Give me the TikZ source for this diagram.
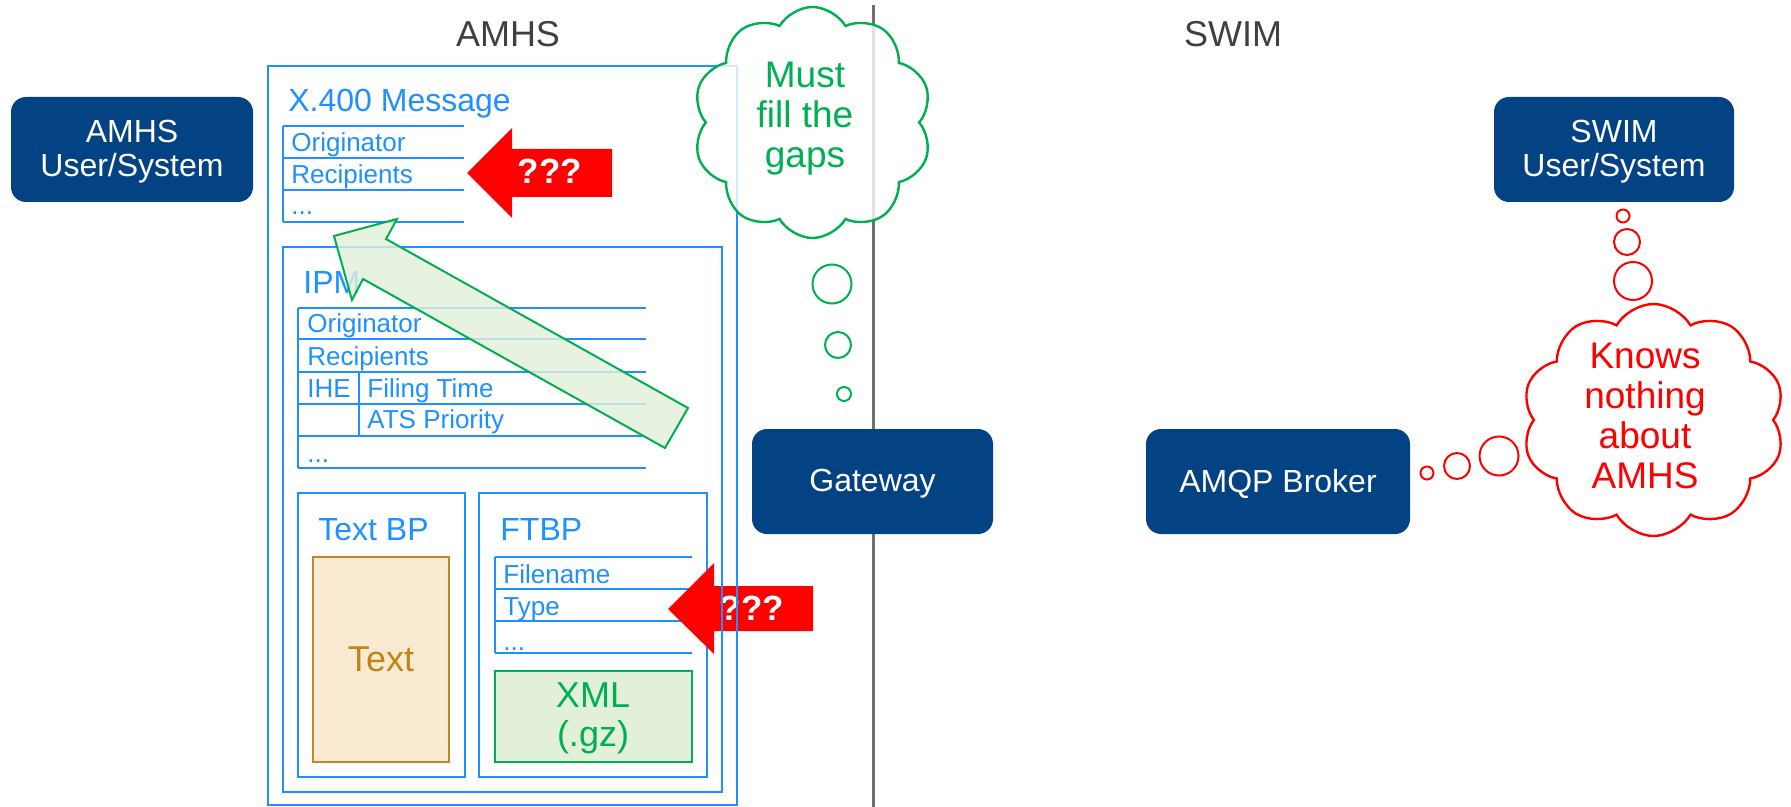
\documentclass[tikz,border=0pt]{standalone}
\usepackage{fontspec}
\setmainfont{Liberation Sans}
\usetikzlibrary{shapes.symbols,fit}
\definecolor{navy}{HTML}{034283}
\definecolor{azure}{HTML}{1E90FF}
\definecolor{grn}{HTML}{00B050}
\definecolor{grnfill}{HTML}{E2F0D9}
\definecolor{ochre}{HTML}{BF8616}
\definecolor{peach}{HTML}{FBEAD2}
\definecolor{ochreline}{HTML}{C0882B}
\definecolor{titlegray}{HTML}{404040}
\definecolor{divgray}{HTML}{707070}
\begin{document}
\begin{tikzpicture}[x=0.5pt,y=-0.5pt,
  darkbox/.style={draw=none, fill=navy, rounded corners=7.5pt, inner sep=0pt},
  boxtext/.style={text=white, align=center, font=\fontsize{16}{17}\selectfont, inner sep=0pt},
  frame/.style={draw=azure, line width=1pt, inner sep=0pt},
  tline/.style={draw=azure, line width=0.8pt},
  tbl/.style={text=azure, font=\fontsize{13}{15}\selectfont, inner sep=0pt, anchor=base west},
  hdr/.style={text=azure, font=\fontsize{16}{19}\selectfont, inner sep=0pt, anchor=base west},
  qarrow/.style={fill=red, draw=none},
  qtext/.style={text=white, font=\bfseries\fontsize{17.5}{20}\selectfont, inner sep=0pt, anchor=base},
  titletext/.style={text=titlegray, font=\fontsize{18}{21}\selectfont, inner sep=0pt, anchor=base},
  gbubble/.style={circle, draw=grn, line width=1pt, inner sep=0pt, fill=white},
  rbubble/.style={circle, draw=red, line width=1pt, inner sep=0pt, fill=white},
  cloudtext/.style={align=center, font=\fontsize{18.5}{20}\selectfont, inner sep=0pt},
]
\useasboundingbox (0,0) rectangle (1791,807);

% divider
\coordinate (divtop) at (873,5);
\coordinate (divbot) at (873,807);
\draw[divgray, line width=1.5pt] (divtop) -- (divbot);

% titles
\node[titletext] (amhstitle) at (508,47) {AMHS};
\node[titletext] (swimtitle) at (1233,47) {SWIM};

% dark boxes
\node[darkbox, minimum width=121pt, minimum height=52.5pt] (amhsuser) at (132,149.5) {};
\node[boxtext] (amhsusertext) at (132,152) {AMHS\\User/System};
\node[darkbox, minimum width=120pt, minimum height=52.5pt] (swimuser) at (1614,149.5) {};
\node[boxtext] (swimusertext) at (1614,152) {SWIM\\User/System};
\node[darkbox, minimum width=120.5pt, minimum height=52.5pt] (gateway) at (872.5,481.5) {};
\node[boxtext, anchor=base] (gatewaytext) at (872.5,491) {Gateway};
\node[darkbox, minimum width=132pt, minimum height=52.5pt] (broker) at (1278,481.5) {};
\node[boxtext, anchor=base] (brokertext) at (1278,492) {AMQP Broker};

% X.400 message header
\node[hdr] (x400title) at (288,112) {X.400 Message};
\draw[tline] (283,126) -- (283,222);
\foreach \yy in {126,158,190,222} \draw[tline] (283,\yy) -- (464,\yy);
\node[tbl] (hOrig) at (291,152) {Originator};
\node[tbl] (hRecip) at (291,184) {Recipients};
\node[tbl] (hDots) at (291,215) {...};

% IPM
\node[hdr] (ipmtitle) at (303,293) {IPM};
\draw[tline] (298,308) -- (298,468);
\draw[tline] (359,372) -- (359,436);
\foreach \yy in {308,339,372,404,436,468} \draw[tline] (298,\yy) -- (646,\yy);
\node[tbl] (iOrig) at (307,333) {Originator};
\node[tbl] (iRecip) at (307,365) {Recipients};
\node[tbl] (iIHE) at (307,397) {IHE};
\node[tbl] (iFiling) at (367,397) {Filing Time};
\node[tbl] (iATS) at (367,428) {ATS Priority};
\node[tbl] (iDots) at (307,462) {...};

% Text BP
\node[frame, fit={(298,493) (465,777)}] (textbp) {};
\node[hdr] (textbptitle) at (318,540) {Text BP};
\node[draw=ochreline, fill=peach, line width=1pt, inner sep=0pt, fit={(313,557) (449,762)}] (textbox) {};
\node[text=ochre, font=\fontsize{18}{21}\selectfont, inner sep=0pt, anchor=base] (texttext) at (381,671) {Text};

% FTBP
\node[frame, fit={(479,493) (707,777)}] (ftbp) {};
\node[hdr] (ftbptitle) at (500,540) {FTBP};
\draw[tline] (495,557) -- (495,653);
\foreach \yy in {557,589,621,653} \draw[tline] (495,\yy) -- (692,\yy);
\node[tbl] (fName) at (503,583) {Filename};
\node[tbl] (fType) at (503,615) {Type};
\node[tbl] (fDots) at (503,650) {...};
\node[draw=grn, fill=grnfill, line width=1pt, inner sep=0pt, fit={(495,671) (692,762)}] (xmlbox) {};
\node[text=grn, align=center, font=\fontsize{18}{19.5}\selectfont, inner sep=0pt] (xmltext) at (593,718.4) {XML\\(.gz)};

% red arrows
\path[qarrow] (467,173) -- (512,128) -- (512,149) -- (612,149) -- (612,197) -- (512,197) -- (512,218) -- cycle;
\node[qtext] (q1) at (550,184) {???};
\path[qarrow] (668,609) -- (714,563) -- (714,586) -- (813,586) -- (813,631) -- (714,631) -- (714,654) -- cycle;
\node[qtext] (q2) at (752,620) {???};

% IPM and outer frames (over the arrow)
\node[frame, fit={(283,247) (722,792)}] (ipm) {};
\node[frame, fit={(268,66) (737,805)}] (outer) {};

% green block arrow
\path[draw=grn, fill=grnfill, fill opacity=0.82, line width=1pt, line join=miter]
  (334,236) -- (397,219) -- (386,239) -- (688,408) -- (665,448) -- (363,279) -- (352,300) -- cycle;

% green thought cloud
\node[cloud, cloud puffs=10, cloud puff arc=120, cloud ignores aspect, minimum width=119.5pt, minimum height=115.5pt,
  draw=grn, line width=1.2pt, fill=white, fill opacity=0.8, inner sep=0pt] (gcloud) at (812.5,122.5) {};
\node[cloudtext, text=grn] (gcloudtext) at (805,118.7) {Must\\fill the\\gaps};
\node[gbubble, minimum size=19.5pt] (gb1) at (832,284) {};
\node[gbubble, minimum size=13pt] (gb2) at (838,345) {};
\node[gbubble, minimum size=7pt] (gb3) at (844,394) {};

% red thought cloud
\node[cloud, cloud puffs=10, cloud puff arc=120, cloud ignores aspect, minimum width=131.5pt, minimum height=116pt,
  draw=red, line width=1.2pt, fill=white, inner sep=0pt] (rcloud) at (1653.5,420) {};
\node[cloudtext, text=red] (rcloudtext) at (1645,416) {Knows\\nothing\\about\\AMHS};
\node[rbubble, minimum size=6.5pt] (rb1) at (1623,216) {};
\node[rbubble, minimum size=13pt] (rb2) at (1627,242) {};
\node[rbubble, minimum size=19pt] (rb3) at (1633,281) {};
\node[rbubble, minimum size=6.5pt] (rb4) at (1427,473) {};
\node[rbubble, minimum size=13pt] (rb5) at (1457,466) {};
\node[rbubble, minimum size=19.5pt] (rb6) at (1499,456) {};
\end{tikzpicture}
\end{document}
